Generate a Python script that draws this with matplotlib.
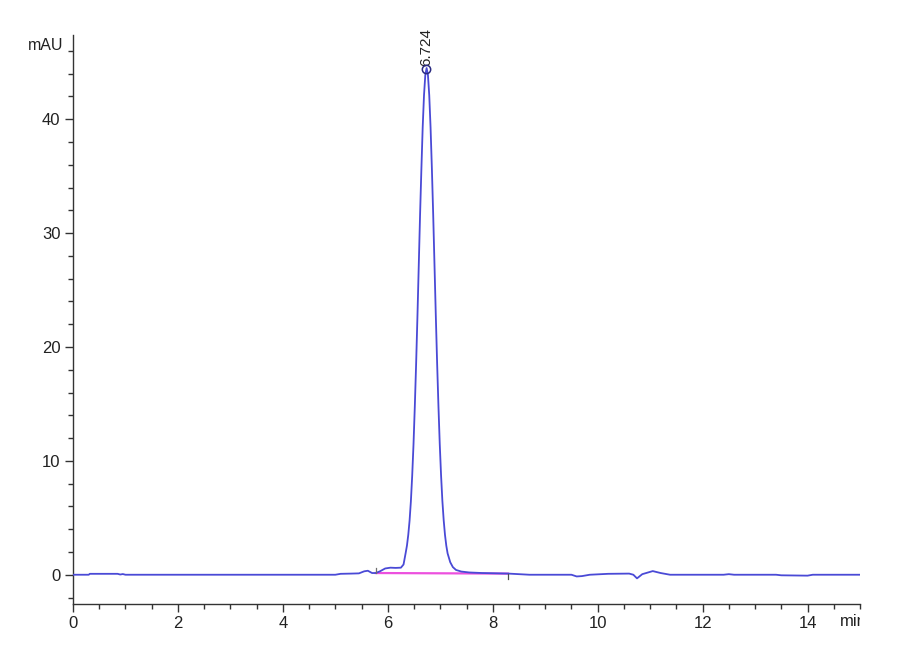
import matplotlib
matplotlib.use("Agg")
import matplotlib.pyplot as plt
from matplotlib.ticker import MultipleLocator
from matplotlib.transforms import Bbox, TransformedBbox

plt.rcParams['font.family'] = ['Liberation Sans', 'DejaVu Sans']

# Chromatogram trace (time in min, absorbance in mAU)
time_min = [0.0, 0.3, 0.32, 0.85, 0.9, 0.95, 1.0, 2.0, 3.0, 4.0, 5.0, 5.1, 5.3, 5.45,
            5.55, 5.62, 5.7, 5.77, 5.85, 5.95, 6.05, 6.15, 6.25, 6.3,
            6.34, 6.365, 6.39, 6.415, 6.44, 6.465, 6.49, 6.515, 6.54, 6.565,
            6.59, 6.615, 6.64, 6.665, 6.69, 6.715, 6.74, 6.765, 6.79, 6.815,
            6.84, 6.865, 6.89, 6.915, 6.94, 6.965, 6.99, 7.015, 7.04, 7.065,
            7.09, 7.115, 7.14, 7.19, 7.24, 7.3, 7.4, 7.55, 7.8, 8.0, 8.3,
            8.5, 8.7, 9.0, 9.5, 9.6, 9.7, 9.85, 10.2, 10.6, 10.68, 10.75,
            10.85, 11.05, 11.2, 11.38, 12.4, 12.5, 12.6, 13.4, 13.5, 14.0,
            14.1, 15.0]
signal_mau = [0.0, 0.0, 0.08, 0.08, 0.02, 0.06, 0.0, 0.0, 0.0, 0.0, 0.0, 0.08, 0.1, 0.12,
              0.3, 0.35, 0.15, 0.15, 0.3, 0.55, 0.62, 0.6, 0.62, 0.9,
              1.9, 2.56, 3.5, 4.75, 6.45, 8.7, 11.45, 14.8, 18.55, 22.7,
              27.15, 31.6, 35.6, 39.3, 42.1, 43.9, 44.5, 43.9, 42.1, 39.3,
              35.7, 31.65, 27.2, 22.75, 18.6, 14.85, 11.5, 8.75, 6.5, 4.8,
              3.5, 2.55, 1.87, 1.1, 0.67, 0.42, 0.28, 0.2, 0.15, 0.13, 0.1,
              0.05, 0.0, 0.0, 0.0, -0.15, -0.12, 0.0, 0.08, 0.1, 0.0, -0.32,
              0.05, 0.32, 0.15, 0.0, 0.0, 0.05, 0.0, 0.0, -0.05, -0.08,
              0.0, 0.0]

# Integration baseline
baseline_t = [5.77, 8.29]
baseline_y = [0.15, 0.10]

# Peak annotation
peak_time = 6.724
peak_height = 44.4
peak_label = "6.724"

x_ticks = [0, 2, 4, 6, 8, 10, 12, 14]
y_ticks = [0, 10, 20, 30, 40]

fig = plt.figure(figsize=(9, 6.6), dpi=100)
ax = fig.add_axes([73/900, 1-604/660, (860-73)/900, (604-35)/660])

ax.plot(time_min, signal_mau, color='#4a4ad6', lw=1.3, zorder=3)
ax.plot(baseline_t, baseline_y, color='#ec50de', lw=1.6, zorder=2)
# baseline start / end marks
ax.plot([baseline_t[0], baseline_t[0]], [baseline_y[0], baseline_y[0] + 0.45], color='#707070', lw=0.9, zorder=4)
ax.plot([baseline_t[1], baseline_t[1]], [baseline_y[1], baseline_y[1] - 0.45], color='#505050', lw=0.9, zorder=4)

ax.plot([peak_time], [peak_height], marker='o', ms=6, mfc='none', mec='#2a2a80', mew=1.1, zorder=5)
ax.text(peak_time + 0.01, peak_height + 0.3, peak_label, rotation=90, ha='center', va='bottom',
        fontsize=11, color='#222222')

ax.set_xlim(0, 15)
ax.set_ylim(-2.57, 47.4)
ax.set_xticks(x_ticks)
ax.set_yticks(y_ticks)
ax.xaxis.set_minor_locator(MultipleLocator(0.5))
ax.yaxis.set_minor_locator(MultipleLocator(2))

for s in ['top', 'right']:
    ax.spines[s].set_visible(False)
for s in ['left', 'bottom']:
    ax.spines[s].set_color('#333333')
    ax.spines[s].set_linewidth(1.0)

ax.tick_params(which='major', direction='out', length=6, width=1.0, color='#333333',
               labelsize=12, labelcolor='#222222', pad=3)
ax.tick_params(which='minor', direction='out', length=3.5, width=1.0, color='#333333')

ax.text(-0.012, 46.5, 'mAU', transform=ax.get_yaxis_transform(), ha='right', va='center',
        fontsize=11.5, color='#222222')
t = ax.text(14.62, -0.0175, 'min', transform=ax.get_xaxis_transform(), ha='left', va='top',
            fontsize=12, color='#222222', clip_on=True)
t.set_clip_box(TransformedBbox(Bbox([[0, 0], [860/900, 1]]), fig.transFigure))

fig.savefig('out.png', dpi=100)
